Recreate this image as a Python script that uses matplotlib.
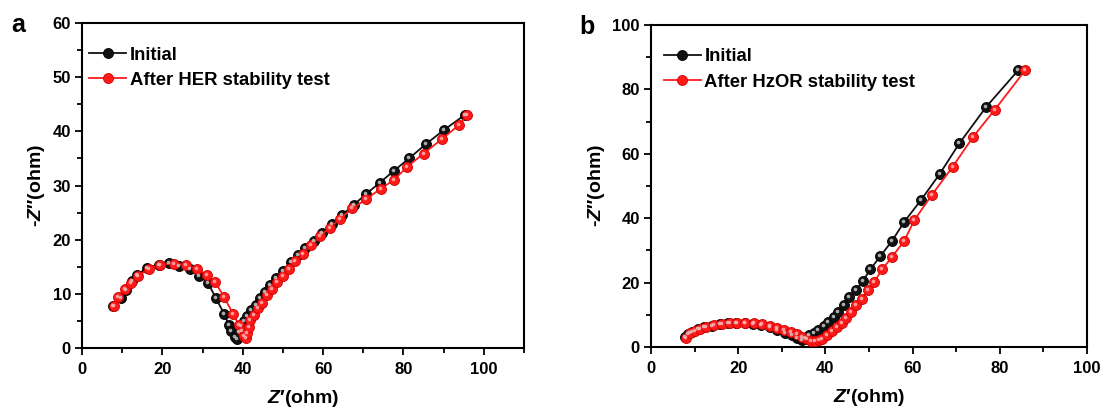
import matplotlib
matplotlib.use("Agg")
import matplotlib.pyplot as plt
from matplotlib.ticker import MultipleLocator
from matplotlib.transforms import offset_copy

plt.rcParams["font.family"] = ["Liberation Sans", "DejaVu Sans"]
plt.rcParams["font.weight"] = "bold"
plt.rcParams["mathtext.fontset"] = "custom"
plt.rcParams["mathtext.it"] = "Liberation Sans:bold:italic"
plt.rcParams["mathtext.rm"] = "Liberation Sans:bold"

# -------------------------------------------------------------
# Panel a : HER  (Z', -Z'')
# -------------------------------------------------------------
a_init_x = [7.8, 9.8, 10.9, 12.5, 13.7, 16.2, 19.1, 21.6, 24.1, 26.9, 29.2, 31.4,
            33.3, 35.4, 36.5, 37.2, 38.0, 38.5,
            39.0, 39.5, 40.2, 41.0, 42.0, 43.2, 44.4, 45.6, 46.9, 48.4, 50.0,
            51.9, 53.8, 55.6, 57.7, 59.8, 62.2, 64.8, 67.6, 70.8, 74.1, 77.6,
            81.4, 85.5, 90.0, 95.2]
a_init_y = [7.8, 9.2, 10.8, 12.3, 13.5, 14.8, 15.4, 15.7, 15.2, 14.6, 13.3, 12.0,
            9.2, 6.3, 4.3, 3.1, 2.1, 1.7,
            3.0, 4.0, 5.0, 6.0, 7.0, 8.0, 9.2, 10.4, 11.7, 12.9, 14.3,
            15.8, 17.2, 18.5, 19.7, 21.3, 22.9, 24.6, 26.4, 28.5, 30.5, 32.7,
            35.0, 37.6, 40.2, 43.0]

a_after_x = [7.9, 9.0, 10.6, 12.2, 13.9, 16.6, 19.5, 22.8, 25.9, 28.6, 31.1, 33.2,
             35.3, 37.6, 39.0, 39.8, 40.4, 40.8,
             41.1, 41.5, 41.9, 42.7, 43.7, 44.8, 46.1, 47.3, 48.6, 50.0, 51.4,
             53.1, 55.0, 57.0, 59.2, 61.6, 64.3, 67.3, 70.8, 74.3, 77.6, 81.0,
             85.0, 89.6, 93.9, 95.9]
a_after_y = [7.8, 9.5, 10.9, 12.0, 13.3, 14.6, 15.4, 15.6, 15.4, 14.6, 13.5, 12.1,
             9.5, 6.3, 4.3, 3.1, 2.3, 1.8,
             2.8, 3.8, 5.2, 6.1, 7.4, 8.4, 9.7, 10.9, 12.1, 13.3, 14.6,
             16.0, 17.4, 19.1, 20.6, 22.2, 23.9, 25.8, 27.5, 29.4, 31.0, 33.5,
             35.9, 38.6, 41.2, 43.0]

# -------------------------------------------------------------
# Panel b : HzOR
# -------------------------------------------------------------
b_init_x = [7.7, 8.5, 9.5, 10.7, 12.2, 13.9, 15.8, 17.7, 19.6, 21.5, 23.4, 25.3,
            27.2, 29.0, 30.7, 32.3, 33.6, 34.6, 35.4, 36.2, 37.3, 38.4, 39.6,
            40.7, 41.9, 43.0, 44.2, 45.5, 47.1, 48.6, 50.3, 52.6, 55.3, 58.1,
            61.9, 66.2, 70.7, 76.9, 84.2]
b_init_y = [3.0, 4.0, 4.8, 5.5, 6.1, 6.6, 7.0, 7.3, 7.4, 7.3, 7.1, 6.7,
            6.1, 5.3, 4.5, 3.6, 2.8, 2.1, 2.7, 3.6, 4.4, 5.4, 6.5,
            7.8, 9.3, 10.9, 13.0, 15.4, 17.8, 20.5, 24.1, 28.2, 33.0, 38.9,
            45.6, 53.7, 63.2, 74.6, 85.9]

b_after_x = [8.1, 9.0, 10.0, 11.2, 12.7, 14.4, 16.3, 18.2, 19.7, 21.6, 23.6, 25.5,
             27.4, 29.0, 30.5, 32.0, 33.4, 34.7, 35.8, 36.8, 37.7, 38.5, 39.3,
             40.4, 41.5, 42.7, 43.7, 44.8, 45.9, 47.1, 48.4, 49.7, 51.2, 53.0,
             55.3, 58.1, 60.4, 64.4, 69.2, 73.9, 78.8, 85.8]
b_after_y = [2.9, 4.2, 5.0, 5.6, 6.2, 6.7, 7.1, 7.3, 7.5, 7.3, 7.3, 7.0,
             6.5, 5.9, 5.3, 4.6, 3.9, 3.2, 2.6, 2.0, 1.8, 2.1, 2.6,
             3.6, 4.9, 6.2, 7.5, 9.1, 10.9, 13.0, 15.0, 17.6, 20.2, 24.1,
             28.0, 33.0, 39.4, 47.2, 56.0, 65.3, 73.6, 85.9]

LABEL_INIT = "Initial"
LABEL_A = "After HER stability test"
LABEL_B = "After HzOR stability test"

BLACK = "#111111"
RED = "#ff1a1a"


def draw_series(ax, fig, x, y, color, edge, shine, label):
    ax.plot(x, y, color=color, lw=1.3, marker="o", ms=7.2,
            mfc=color, mec=edge, mew=0.6, label=label, zorder=3)
    # small highlight to give the "ball" look
    tr = offset_copy(ax.transData, fig=fig, x=-1.0, y=1.0, units="dots")
    ax.plot(x, y, ls="none", marker="o", ms=2.6, mfc=shine, mec="none",
            alpha=0.85, transform=tr, zorder=4)


def style_axes(ax, xmax, ymax, xmaj, xmin_, ymaj, ymin_):
    ax.set_xlim(0, xmax)
    ax.set_ylim(0, ymax)
    ax.xaxis.set_major_locator(MultipleLocator(xmaj))
    ax.xaxis.set_minor_locator(MultipleLocator(xmin_))
    ax.yaxis.set_major_locator(MultipleLocator(ymaj))
    ax.yaxis.set_minor_locator(MultipleLocator(ymin_))
    ax.tick_params(which="both", direction="out", top=False, right=False,
                   width=1.3, labelsize=12, pad=3)
    ax.tick_params(axis="x", which="major", pad=5)
    ax.tick_params(which="major", length=5)
    ax.tick_params(which="minor", length=3.5)
    for lab in ax.get_xticklabels() + ax.get_yticklabels():
        lab.set_fontweight("bold")
    for sp in ax.spines.values():
        sp.set_linewidth(1.5)
    ax.set_xlabel("$Z′$(ohm)", fontsize=14, fontweight="bold", labelpad=8)
    ax.set_ylabel("-$Z″$(ohm)", fontsize=14, fontweight="bold", labelpad=4)


fig = plt.figure(figsize=(11.05, 4.08), dpi=100)

ax_a = fig.add_axes([82 / 1105, 60 / 408, 442 / 1105, 325 / 408])
draw_series(ax_a, fig, a_init_x, a_init_y, BLACK, "#000000", "#c8c8c8", LABEL_INIT)
draw_series(ax_a, fig, a_after_x, a_after_y, RED, "#d00000", "#ffb3b3", LABEL_A)
style_axes(ax_a, 110, 60, 20, 10, 10, 5)
ax_a.legend(loc="upper left", bbox_to_anchor=(0.0, 0.95), frameon=False,
            fontsize=13.3, handlelength=2.0, handletextpad=0.2,
            labelspacing=0.45, borderaxespad=0.0, numpoints=1)

ax_b = fig.add_axes([651 / 1105, 61 / 408, 436 / 1105, 322 / 408])
draw_series(ax_b, fig, b_init_x, b_init_y, BLACK, "#000000", "#c8c8c8", LABEL_INIT)
draw_series(ax_b, fig, b_after_x, b_after_y, RED, "#d00000", "#ffb3b3", LABEL_B)
style_axes(ax_b, 100, 100, 20, 10, 20, 10)
ax_b.legend(loc="upper left", bbox_to_anchor=(0.012, 0.95), frameon=False,
            fontsize=13.3, handlelength=2.0, handletextpad=0.2,
            labelspacing=0.45, borderaxespad=0.0, numpoints=1)

fig.text(18 / 1105, 1 - 25 / 408, "a", fontsize=18, fontweight="bold",
         ha="center", va="center")
fig.text(587 / 1105, 1 - 27 / 408, "b", fontsize=18, fontweight="bold",
         ha="center", va="center")

fig.savefig("out.png", dpi=100)
